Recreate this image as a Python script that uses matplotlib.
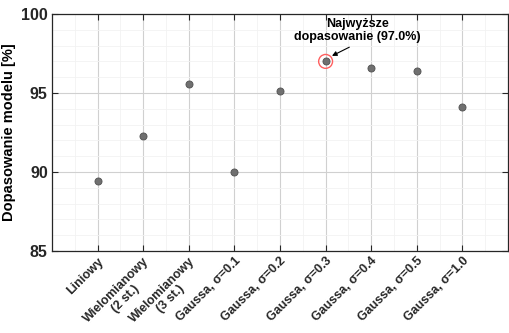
import numpy as np
import matplotlib
matplotlib.use("Agg")
import matplotlib.pyplot as plt
from matplotlib.ticker import MultipleLocator

# ── Data ──────────────────────────────────────────────────────────────
MODELS = [
    "Liniowy", "Wielomianowy\n(2 st.)", "Wielomianowy\n(3 st.)",
    "Gaussa, σ=0.1", "Gaussa, σ=0.2", "Gaussa, σ=0.3",
    "Gaussa, σ=0.4", "Gaussa, σ=0.5", "Gaussa, σ=1.0",
]
FIT = [89.4, 92.3, 95.6, 90.0, 95.1, 97.0, 96.6, 96.4, 94.1]

plt.rcParams["font.family"] = ["Liberation Sans", "DejaVu Sans"]

fig = plt.figure(figsize=(5.09, 3.33), dpi=100)
ax = fig.add_axes([52 / 509, 1 - 251 / 333, 456 / 509, 237 / 333])

x = np.arange(1, len(MODELS) + 1)
ax.scatter(x, FIT, s=26, color="#707070", edgecolors="#505050",
           linewidths=0.6, zorder=3)

# highlight best model
best = int(np.argmax(FIT))
ax.scatter(x[best], FIT[best], s=100, facecolors="none",
           edgecolors="#ff6060", linewidths=1.0, zorder=4)
ax.annotate("", xy=(x[best] + 0.14, FIT[best] + 0.35),
            xytext=(x[best] + 0.52, FIT[best] + 0.9),
            arrowprops=dict(arrowstyle="-|>", color="black", lw=0.8,
                            mutation_scale=7, shrinkA=0, shrinkB=0),
            zorder=5)
ax.text(x[best] + 0.7, FIT[best] + 1.95, "Najwyższe\ndopasowanie (97.0%)",
        ha="center", va="center", fontsize=9, fontweight="bold",
        linespacing=1.2, zorder=5)

ax.set_xlim(0, len(MODELS) + 1)
ax.set_ylim(85, 100)
ax.set_xticks(x)
ax.set_xticklabels(MODELS, rotation=45, ha="right", rotation_mode="anchor",
                   fontsize=9, fontweight="bold", multialignment="center",
                   linespacing=1.0)
ax.yaxis.set_major_locator(MultipleLocator(5))
ax.yaxis.set_minor_locator(MultipleLocator(1))
ax.xaxis.set_minor_locator(MultipleLocator(0.5))
for lab in ax.get_yticklabels():
    lab.set_fontweight("bold")
    lab.set_fontsize(11.5)
ax.set_ylabel("Dopasowanie modelu [%]", fontsize=10.5, fontweight="bold")

ax.grid(True, which="major", color="#d0d0d0", linewidth=0.8, zorder=0)
ax.grid(True, which="minor", color="#f2f2f2", linewidth=0.6, zorder=0)
ax.tick_params(direction="in", top=True, right=True, length=4, width=0.8,
               colors="#262626", labelcolor="#262626", pad=3)
ax.tick_params(which="minor", length=0)
for spine in ax.spines.values():
    spine.set_color("#262626")
    spine.set_linewidth(0.9)

fig.savefig("out.png", dpi=100)
